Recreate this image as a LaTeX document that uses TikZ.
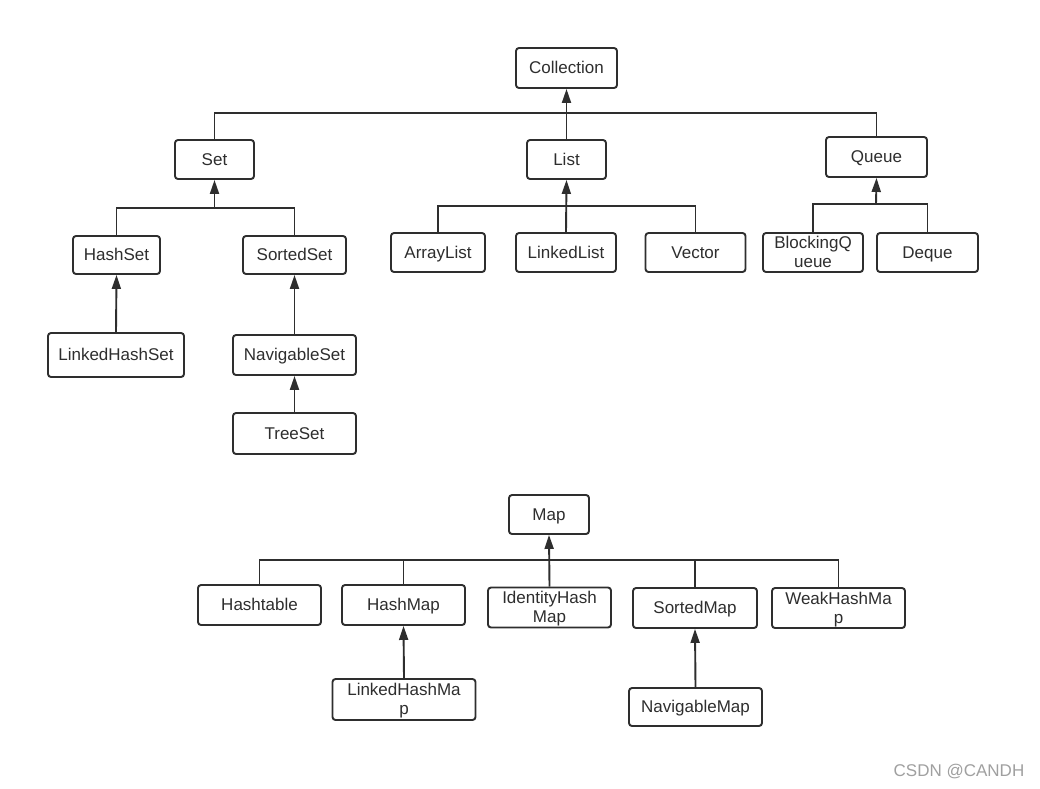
\documentclass[tikz,border=0pt]{standalone}
\usepackage{fontspec}
\setmainfont{Liberation Sans}
\usetikzlibrary{arrows.meta}
\definecolor{ln}{HTML}{2E2E2E}
\definecolor{wm}{HTML}{A0A0A0}
\newcommand{\twol}[3]{\raisebox{-2pt}[\height][\depth]{\parbox{#1}{\centering\strut #2\strut\\\strut #3\strut}}}
\tikzset{
  box/.style={draw=ln, line width=1.9pt, rounded corners=3pt, inner sep=0pt,
    align=center, text=ln, font=\fontsize{17}{19}\selectfont},
  onel/.style={box, text height=13pt, text depth=2pt},
  link/.style={draw=ln, line width=1.9pt},
  arr/.style={link, -{Triangle[length=14pt,width=9pt]}},
}
\begin{document}
\begin{tikzpicture}[x=1pt,y=-1pt]
\useasboundingbox[fill=white] (0,0) rectangle (1040,788);
% Collection tree
\node[onel, minimum width=101pt, minimum height=40pt] (coll) at (566.5,68) {Collection};
\node[onel, minimum width=79pt, minimum height=39pt] (set) at (214.5,159.5) {Set};
\node[onel, minimum width=79pt, minimum height=39pt] (list) at (566.5,159.5) {List};
\node[onel, minimum width=101pt, minimum height=40pt] (queue) at (876.5,157) {Queue};
\node[onel, minimum width=87pt, minimum height=38pt] (hashset) at (116.5,255) {HashSet};
\node[onel, minimum width=103pt, minimum height=38pt] (sortedset) at (294.5,255) {SortedSet};
\node[onel, minimum width=136pt, minimum height=44pt] (lhs) at (116,355) {LinkedHashSet};
\node[onel, minimum width=123pt, minimum height=40pt] (navset) at (294.5,355) {NavigableSet};
\node[onel, minimum width=123pt, minimum height=41pt] (treeset) at (294.5,433.5) {TreeSet};
\node[onel, minimum width=94pt, minimum height=39pt] (arraylist) at (438,252.5) {ArrayList};
\node[onel, minimum width=100pt, minimum height=39pt] (linkedlist) at (566,252.5) {LinkedList};
\node[onel, minimum width=100pt, minimum height=39pt] (vector) at (695.5,252.5) {Vector};
\node[box, minimum width=100pt, minimum height=39pt] (bq) at (813,252.5) {\twol{100pt}{BlockingQ}{ueue}};
\node[onel, minimum width=101pt, minimum height=39pt] (deque) at (927.5,252.5) {Deque};
% Map tree
\node[onel, minimum width=80pt, minimum height=39pt] (map) at (549,514.5) {Map};
\node[onel, minimum width=123pt, minimum height=40pt] (hashtable) at (259.5,605) {Hashtable};
\node[onel, minimum width=123pt, minimum height=40pt] (hashmap) at (403.5,605) {HashMap};
\node[box, minimum width=123pt, minimum height=40pt] (ihm) at (549.5,607.5) {\twol{123pt}{IdentityHash}{Map}};
\node[onel, minimum width=124pt, minimum height=40pt] (sortedmap) at (695,608) {SortedMap};
\node[box, minimum width=133pt, minimum height=40pt] (whm) at (838.5,608) {\twol{133pt}{WeakHashMa}{p}};
\node[onel, minimum width=133pt, minimum height=38pt] (navmap) at (695.5,707) {NavigableMap};
\node[box, minimum width=143pt, minimum height=41pt] (lhm) at (404,699.5) {\twol{143pt}{LinkedHashMa}{p}};
% junctions
\coordinate (cj) at (566.5,113);
\coordinate (sj) at (214.5,208);
\coordinate (lj) at (566.5,206);
\coordinate (qj) at (876,204);
\coordinate (mj) at (549,560);
% connectors
\draw[arr] (list.north) -- (coll.south);
\draw[link] (set.north) |- (cj) -| (queue.north);
\draw[arr] (sj) -- (set.south);
\draw[link] (hashset.north) |- (sj) -| (sortedset.north);
\draw[arr] (lhs.north) -- (hashset.south);
\draw[arr] (navset.north) -- (sortedset.south);
\draw[arr] (treeset.north) -- (navset.south);
\draw[arr] (linkedlist.north) -- (list.south);
\draw[link] (arraylist.north) |- (lj) -| (vector.north);
\draw[arr] (qj) -- (queue.south);
\draw[link] (bq.north) |- (qj) -| (deque.north);
\draw[arr] (ihm.north) -- (map.south);
\draw[link] (hashtable.north) |- (mj) -| (whm.north);
\draw[link] (hashmap.north) -- (hashmap.north |- mj);
\draw[link] (sortedmap.north) -- (sortedmap.north |- mj);
\draw[arr] (lhm.north) -- (hashmap.south);
\draw[arr] (navmap.north) -- (sortedmap.south);
% watermark
\node[text=wm, font=\fontsize{17}{20}\selectfont, inner sep=0pt] (wmark) at (959,771) {CSDN @CANDH};
\end{tikzpicture}
\end{document}
